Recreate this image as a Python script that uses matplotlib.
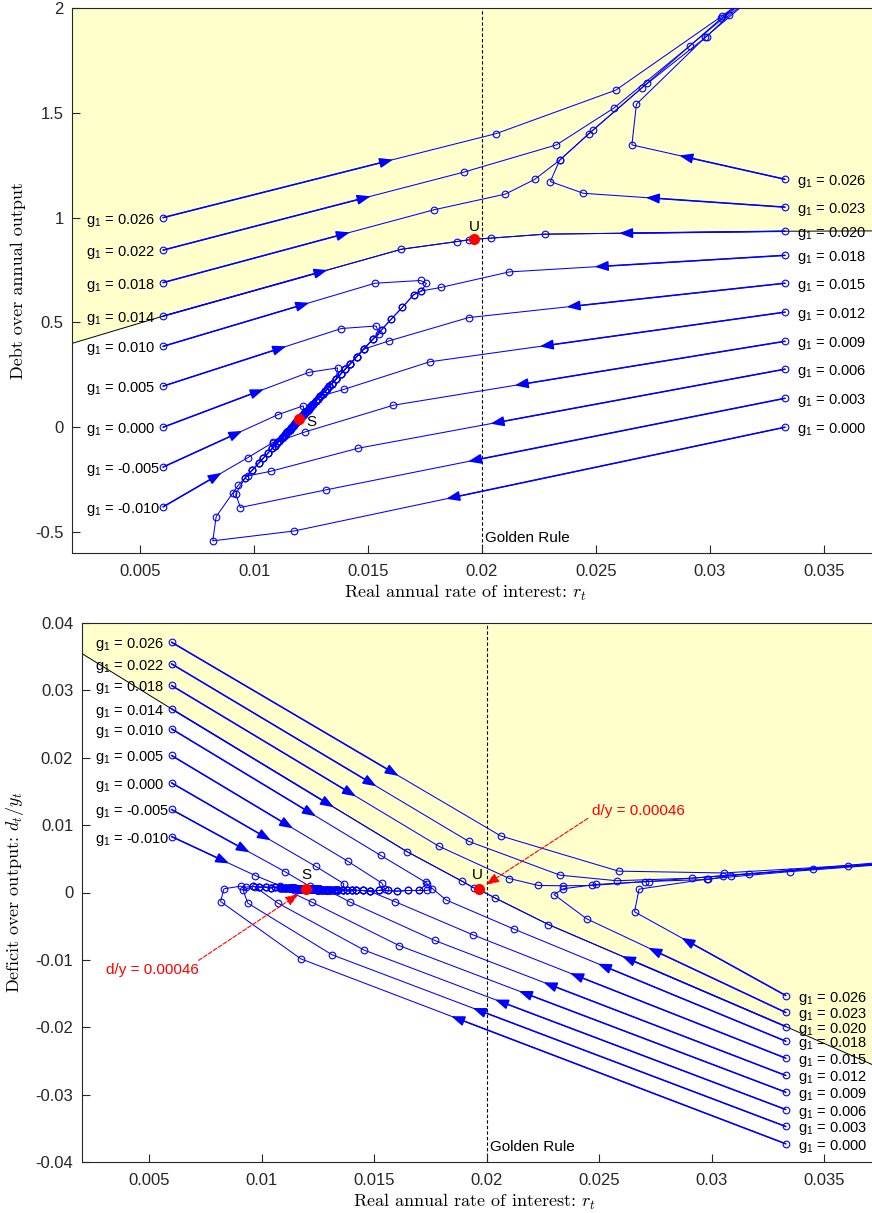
import matplotlib
matplotlib.use('Agg')
import matplotlib.pyplot as plt

plt.rcParams['font.family'] = ['Liberation Sans', 'DejaVu Sans']
plt.rcParams['mathtext.fontset'] = 'custom'
plt.rcParams['mathtext.rm'] = 'Liberation Sans'
plt.rcParams['mathtext.it'] = 'Liberation Sans:italic'
plt.rcParams['axes.unicode_minus'] = False

# fixed points and golden rule
S_r, S_b, S_d = 0.01196, 0.0415, 0.00046
U_r, U_b, U_d = 0.01966, 0.897, 0.00046
golden_r = 0.02
dy_label = 'd/y = 0.00046'

# boundary of the shaded region (stable arm of U)
bnd_r = [0.002, 0.006, 0.01646, 0.01891, 0.01943, 0.01966, 0.02037, 0.02275, 0.0333, 0.038]
bnd_b = [0.40, 0.53, 0.849, 0.886, 0.894, 0.897, 0.902, 0.921, 0.935, 0.937]
bnd_d = [0.0355, 0.02726, 0.00608, 0.00168, 0.0007, 0.00046, -0.0008, -0.00475, -0.01989, -0.0268]

# slow approach to S along the ridge, from above and from below
ridge_hi_r = [0.0170, 0.0165, 0.0160, 0.0156, 0.0152, 0.0148, 0.0145, 0.0142, 0.0140, 0.0138, 0.0136,
              0.0134, 0.0133, 0.0132, 0.0131, 0.0130, 0.0129, 0.0128, 0.0127, 0.0126, 0.01255,
              0.0125, 0.01245, 0.0124, 0.01235, 0.0123, 0.01225, 0.0122, 0.01215, 0.0121, 0.01205]
ridge_hi_b = [0.632, 0.572, 0.514, 0.466, 0.419, 0.372, 0.337, 0.301, 0.278, 0.254, 0.230,
              0.207, 0.195, 0.183, 0.171, 0.160, 0.148, 0.136, 0.124, 0.112, 0.106,
              0.100, 0.095, 0.089, 0.083, 0.077, 0.071, 0.065, 0.059, 0.053, 0.047]
ridge_hi_d = [0.0003, 0.0003, 0.0002, 0.0003, 0.0003, 0.0002, 0.0003, 0.0003, 0.0004, 0.0003, 0.0004,
              0.0003, 0.0004, 0.0004, 0.0003, 0.0004, 0.0004, 0.0004, 0.0004, 0.0005, 0.0004,
              0.0005, 0.0004, 0.0005, 0.0005, 0.0005, 0.0005, 0.0005, 0.0005, 0.0005, 0.0005]
ridge_lo_r = [0.0093, 0.0096, 0.0099, 0.0102, 0.0104, 0.0106, 0.0108, 0.0109, 0.0110, 0.0111, 0.0112,
              0.01125, 0.0113, 0.01135, 0.0114, 0.01145, 0.0115, 0.01155, 0.0116, 0.01165, 0.0117,
              0.01175, 0.0118, 0.01185, 0.0119]
ridge_lo_b = [-0.277, -0.242, -0.206, -0.171, -0.147, -0.124, -0.100, -0.088, -0.077, -0.065, -0.053,
              -0.047, -0.041, -0.035, -0.029, -0.023, -0.018, -0.012, -0.006, 0.000, 0.006,
              0.012, 0.018, 0.024, 0.030]
ridge_lo_d = [0.0008, 0.0009, 0.0008, 0.0008, 0.0007, 0.0008, 0.0007, 0.0007, 0.0007, 0.0007, 0.0006,
              0.0007, 0.0006, 0.0006, 0.0006, 0.0006, 0.0006, 0.0005, 0.0005, 0.0005, 0.0005,
              0.0005, 0.0005, 0.0005, 0.0005]

# paths starting at r = 0.006
r_l026 = [0.006, 0.02063, 0.02587, 0.03054, 0.03608, 0.0410]
b_l026 = [1.0, 1.401, 1.608, 1.962, 2.41, 2.8]
d_l026 = [0.03715, 0.0084, 0.00317, 0.0029, 0.0040, 0.0050]
r_l022 = [0.006, 0.01920, 0.02327, 0.02578, 0.02912, 0.03168, 0.0380]
b_l022 = [0.845, 1.217, 1.347, 1.522, 1.819, 2.05, 2.6]
d_l022 = [0.03394, 0.0076, 0.00257, 0.00175, 0.00212, 0.00277, 0.0046]
r_l018 = [0.006, 0.01788, 0.02102, 0.02231, 0.02341, 0.02468, 0.02703, 0.02986, 0.03085, 0.0395]
b_l018 = [0.69, 1.037, 1.112, 1.182, 1.274, 1.40, 1.62, 1.864, 1.966, 2.7]
d_l018 = [0.03073, 0.00687, 0.00207, 0.00104, 0.0010, 0.00104, 0.00163, 0.00193, 0.00252, 0.0048]
r_l014 = [0.006, 0.01646, 0.01891, 0.01943, 0.01966]
b_l014 = [0.53, 0.849, 0.886, 0.894, 0.897]
d_l014 = [0.02726, 0.00608, 0.00168, 0.0007, 0.00046]
r_l010 = [0.006, 0.01530, 0.01730, 0.01756, 0.01734]
b_l010 = [0.386, 0.687, 0.700, 0.686, 0.650]
d_l010 = [0.02429, 0.0055, 0.0015, 0.00055, 0.0003]
r_l005 = [0.006, 0.01383, 0.01535, 0.01548]
b_l005 = [0.196, 0.471, 0.483, 0.445]
d_l005 = [0.02034, 0.00465, 0.0014, 0.0005]
r_l000 = [0.006, 0.01240, 0.01366]
b_l000 = [0.0, 0.262, 0.283]
d_l000 = [0.01628, 0.0039, 0.0013]
r_lm005 = [0.006, 0.01104, 0.01215]
b_lm005 = [-0.19, 0.060, 0.102]
d_lm005 = [0.01232, 0.0031, 0.0009]
r_lm010 = [0.006, 0.00972, 0.01083]
b_lm010 = [-0.38, -0.145, -0.072]
d_lm010 = [0.00831, 0.00252, 0.0010]

# paths starting at r = 0.0333
r_r026 = [0.0333, 0.02658, 0.02678, 0.0298, 0.0335, 0.0410]
b_r026 = [1.183, 1.347, 1.541, 1.86, 2.2, 2.8]
d_r026 = [-0.01529, -0.00287, 0.0005, 0.0020, 0.0031, 0.0050]
r_r023 = [0.0333, 0.02445, 0.02300, 0.02341, 0.02487, 0.02724, 0.0305, 0.0345, 0.0410]
b_r023 = [1.05, 1.116, 1.172, 1.274, 1.417, 1.64, 1.95, 2.3, 2.9]
d_r023 = [-0.01781, -0.0039, -0.0003, 0.00055, 0.0012, 0.00163, 0.0025, 0.0035, 0.0050]
r_r020 = [0.0333, 0.02275, 0.02038, 0.01966]
b_r020 = [0.935, 0.921, 0.902, 0.897]
d_r020 = [-0.01989, -0.00475, -0.0008, 0.00046]
r_r018 = [0.0333, 0.02120, 0.01820, 0.01734]
b_r018 = [0.82, 0.741, 0.667, 0.650]
d_r018 = [-0.02207, -0.0054, -0.0011, 0.0013]
r_r015 = [0.0333, 0.01941, 0.01592]
b_r015 = [0.687, 0.523, 0.412]
d_r015 = [-0.02459, -0.0063, -0.00134]
r_r012 = [0.0333, 0.01770, 0.01395]
b_r012 = [0.549, 0.312, 0.181]
d_r012 = [-0.02716, -0.00712, -0.00144]
r_r009 = [0.0333, 0.01611, 0.01224, 0.01083]
b_r009 = [0.41, 0.105, -0.022, -0.075]
d_r009 = [-0.02964, -0.00787, -0.00144, 0.0008]
r_r006 = [0.0333, 0.01457, 0.01073, 0.00973]
b_r006 = [0.277, -0.100, -0.210, -0.232]
d_r006 = [-0.03221, -0.00856, -0.00158, 0.0008]
r_r003 = [0.0333, 0.01314, 0.00939, 0.00919]
b_r003 = [0.138, -0.299, -0.383, -0.318]
d_r003 = [-0.03473, -0.00925, -0.00158, 0.0003]
r_r000 = [0.0333, 0.01175, 0.00818, 0.00833, 0.00907]
b_r000 = [0.0, -0.495, -0.542, -0.426, -0.312]
d_r000 = [-0.0373, -0.00985, -0.00134, 0.00055, 0.00094]

xticks = [0.005, 0.01, 0.015, 0.02, 0.025, 0.03, 0.035]
xtick_labels = ['0.005', '0.01', '0.015', '0.02', '0.025', '0.03', '0.035']
yticks_b = [-0.5, 0, 0.5, 1, 1.5, 2]
ytick_labels_b = ['-0.5', '0', '0.5', '1', '1.5', '2']
yticks_d = [-0.04, -0.03, -0.02, -0.01, 0, 0.01, 0.02, 0.03, 0.04]
ytick_labels_d = ['-0.04', '-0.03', '-0.02', '-0.01', '0', '0.01', '0.02', '0.03', '0.04']

tails = {'hi': (ridge_hi_r, ridge_hi_b, ridge_hi_d),
         'lo': (ridge_lo_r, ridge_lo_b, ridge_lo_d)}

# (g1 label, r, b, d, tail to S, index where the tail is joined)
left_paths = [
    ('0.026', r_l026, b_l026, d_l026, None, 0),
    ('0.022', r_l022, b_l022, d_l022, None, 0),
    ('0.018', r_l018, b_l018, d_l018, None, 0),
    ('0.014', r_l014, b_l014, d_l014, None, 0),
    ('0.010', r_l010, b_l010, d_l010, 'hi', 0),
    ('0.005', r_l005, b_l005, d_l005, 'hi', 4),
    ('0.000', r_l000, b_l000, d_l000, 'hi', 10),
    ('-0.005', r_lm005, b_lm005, d_lm005, 'hi', 27),
    ('-0.010', r_lm010, b_lm010, d_lm010, 'lo', 9),
]
right_paths = [
    ('0.026', r_r026, b_r026, d_r026, None, 0),
    ('0.023', r_r023, b_r023, d_r023, None, 0),
    ('0.020', r_r020, b_r020, d_r020, None, 0),
    ('0.018', r_r018, b_r018, d_r018, 'hi', 0),
    ('0.015', r_r015, b_r015, d_r015, 'hi', 5),
    ('0.012', r_r012, b_r012, d_r012, 'hi', 16),
    ('0.009', r_r009, b_r009, d_r009, 'lo', 9),
    ('0.006', r_r006, b_r006, d_r006, 'lo', 2),
    ('0.003', r_r003, b_r003, d_r003, 'lo', 1),
    ('0.000', r_r000, b_r000, d_r000, 'lo', 0),
]

BLUE = '#0000ff'
YELLOW = '#ffffcc'
DARK = '#262626'


def full_path(r, b, d, tail, k):
    if tail is None:
        return r, b, d
    tr, tb, td = tails[tail]
    return r + tr[k:], b + tb[k:], d + td[k:]


def draw_panel(ax, col, bnd, ylim, yticks, ylabels):
    ax.set_xlim(0.002, 0.038)
    ax.set_ylim(*ylim)
    ax.fill_between(bnd_r, bnd, ylim[1], color=YELLOW, lw=0, zorder=0)
    ax.plot(bnd_r, bnd, color='k', lw=0.7, zorder=1)
    ax.axvline(golden_r, color='k', ls=(0, (3, 2)), lw=0.8, zorder=1)

    for side, paths in (('L', left_paths), ('R', right_paths)):
        for g, r, b, d, tail, k in paths:
            rr, bb, dd = full_path(r, b, d, tail, k)
            yy = bb if col == 'b' else dd
            ax.plot(rr, yy, '-o', color=BLUE, lw=0.75, ms=4.8, mfc='none', mew=0.8, zorder=3)
            # arrow on the first step
            tip = (rr[0] + 0.69 * (rr[1] - rr[0]), yy[0] + 0.69 * (yy[1] - yy[0]))
            ax.annotate('', xy=tip, xytext=(rr[0], yy[0]),
                        arrowprops=dict(arrowstyle='-|>,head_length=0.8,head_width=0.3',
                                        color=BLUE, lw=1.1, shrinkA=0, shrinkB=0,
                                        mutation_scale=10), zorder=4)
            off = (-77, 0) if side == 'L' else (12, 0)
            ax.annotate('g$_1$ = ' + g, xy=(rr[0], yy[0]), xytext=off,
                        textcoords='offset pixels', ha='left', va='center_baseline',
                        fontsize=10.5, color='k', zorder=5)

    ax.set_xticks(xticks)
    ax.set_xticklabels(xtick_labels)
    ax.set_yticks(yticks)
    ax.set_yticklabels(ylabels)
    ax.tick_params(direction='in', length=6, width=0.8, labelsize=12, colors=DARK,
                   top=False, right=False, pad=6)
    ax.tick_params(axis='x', pad=8)
    for s in ax.spines.values():
        s.set_color(DARK)
        s.set_linewidth(0.8)
    ax.spines['right'].set_visible(False)


fig = plt.figure(figsize=(8.72, 12.13), dpi=100)
ax1 = fig.add_axes([72 / 872, 660 / 1213, 820 / 872, 545 / 1213])
ax2 = fig.add_axes([81.5 / 872, 51 / 1213, 810 / 872, 539 / 1213])

draw_panel(ax1, 'b', bnd_b, (-0.6, 2.0), yticks_b, ytick_labels_b)
draw_panel(ax2, 'd', bnd_d, (-0.04, 0.04), yticks_d, ytick_labels_d)

# fixed points
for ax, sy, uy, s_off, u_off in ((ax1, S_b, U_b, (13, -3), (0, 12)),
                                 (ax2, S_d, U_d, (1, 14), (-1, 14))):
    ax.plot([S_r, U_r], [sy, uy], 'o', color='red', ms=7, mec='red', zorder=6)
    ax.annotate('S', xy=(S_r, sy), xytext=s_off, textcoords='offset pixels',
                ha='center', va='center', fontsize=11, zorder=6)
    ax.annotate('U', xy=(U_r, uy), xytext=u_off, textcoords='offset pixels',
                ha='center', va='center', fontsize=11, zorder=6)
    ax.annotate('Golden Rule', xy=(golden_r, ax.get_ylim()[0]), xytext=(3, 15),
                textcoords='offset pixels', ha='left', va='center', fontsize=11)

# red notes on the deficit panel
ax2.annotate('', xy=(U_r, U_d), xytext=(109, 71), textcoords='offset pixels',
             arrowprops=dict(arrowstyle='-|>,head_length=0.8,head_width=0.3', ls='--',
                             color='red', lw=0.8, shrinkA=0, shrinkB=6, mutation_scale=10),
             zorder=7)
ax2.annotate(dy_label, xy=(U_r, U_d), xytext=(113, 78), textcoords='offset pixels',
             ha='left', va='center', fontsize=11, color='red')
ax2.annotate('', xy=(S_r, S_d), xytext=(-107, -71), textcoords='offset pixels',
             arrowprops=dict(arrowstyle='-|>,head_length=0.8,head_width=0.3', ls='--',
                             color='red', lw=0.8, shrinkA=0, shrinkB=6, mutation_scale=10),
             zorder=7)
ax2.annotate(dy_label, xy=(S_r, S_d), xytext=(-200, -81), textcoords='offset pixels',
             ha='left', va='center', fontsize=11, color='red')

# axis labels (LaTeX-like)
lab = dict(fontfamily='cmr10', math_fontfamily='cm', fontsize=13)
ax1.set_xlabel('Real annual rate of interest: $r_t$', **lab)
ax1.set_ylabel('Debt over annual output', **lab)
ax2.set_xlabel('Real annual rate of interest: $r_t$', **lab)
ax2.set_ylabel('Deficit over output: $d_t/y_t$', **lab)
ax1.xaxis.set_label_coords((465 - 72) / 820, -0.055)
ax2.xaxis.set_label_coords((474 - 81.5) / 810, -0.056)
ax1.yaxis.set_label_coords(-0.056, 0.5)
ax2.yaxis.set_label_coords(-0.068, 0.5)

fig.savefig('out.png', dpi=100)
